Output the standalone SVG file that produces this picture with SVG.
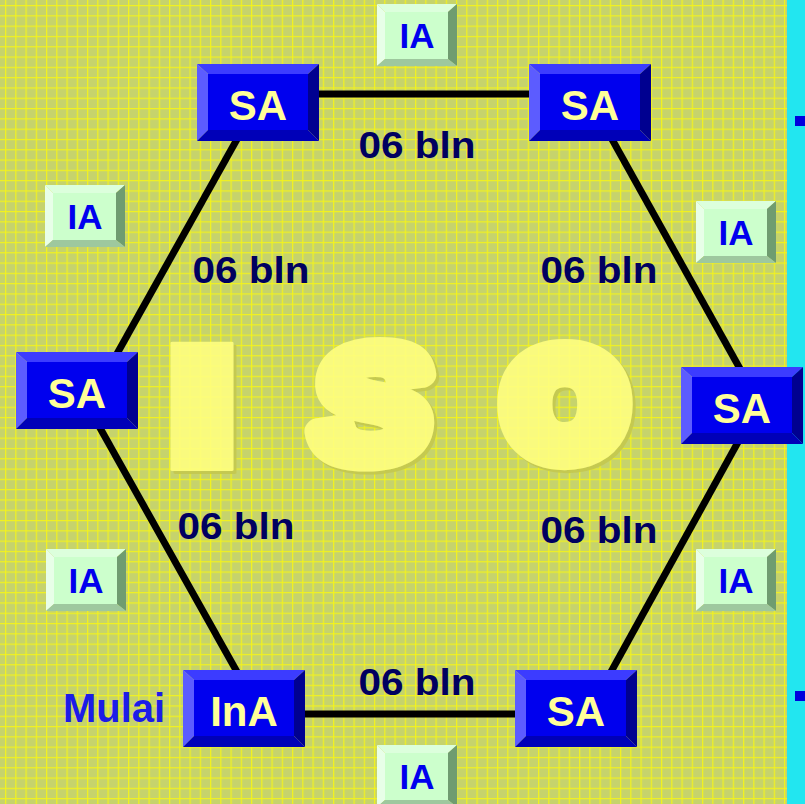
<svg xmlns="http://www.w3.org/2000/svg" xmlns:xlink="http://www.w3.org/1999/xlink" width="805" height="804" viewBox="0 0 805 804">
  <style>
    .edge { stroke: #000; stroke-width: 7; fill: none; stroke-linecap: butt; }
    .sa-label { font-family: "Liberation Sans", Arial, sans-serif; font-weight: bold; font-size: 42px; fill: #ffff99; text-anchor: middle; }
    .ia-label { font-family: "Liberation Sans", Arial, sans-serif; font-weight: bold; font-size: 35px; fill: #0000ee; text-anchor: middle; }
    .period { font-family: "Liberation Sans", Arial, sans-serif; font-weight: bold; font-size: 37px; fill: #000060; text-anchor: middle; }
    .start { font-family: "Liberation Sans", Arial, sans-serif; font-weight: bold; font-size: 40px; fill: #1c1ce8; text-anchor: middle; }
    .big { font-family: "Liberation Sans", Arial, sans-serif; font-weight: bold; text-anchor: middle; stroke-linejoin: round; fill: #ffff80; stroke: #ffff80; }
  </style>
  <defs>
    <!-- graph-paper grid -->
    <pattern id="grid" patternUnits="userSpaceOnUse" x="5" y="5" width="10.25" height="10.3">
      <path d="M0.6 0 V10.3 M0 0.6 H10.25" stroke="#f2f21e" stroke-width="1.2" fill="none"/>
    </pattern>
    <!-- soft offset shadow for the watermark letters -->
    <filter id="letter-shadow" x="-10%" y="-10%" width="130%" height="130%">
      <feFlood flood-color="#c4c850"/>
      <feComposite in2="SourceAlpha" operator="in"/>
      <feOffset dx="3" dy="3" result="shadow"/>
      <feMerge>
        <feMergeNode in="shadow"/>
        <feMergeNode in="SourceGraphic"/>
      </feMerge>
    </filter>
    <!-- dark blue bevelled button, 122 x 77 -->
    <g id="sa-box">
      <rect x="11" y="10" width="100" height="56" fill="#0000ee"/>
      <polygon points="0,0 122,0 111,10 11,10" fill="#3c3cff"/>
      <polygon points="0,0 11,10 11,66 0,77" fill="#5c5cff"/>
      <polygon points="122,0 122,77 111,66 111,10" fill="#000090"/>
      <polygon points="0,77 11,66 111,66 122,77" fill="#0000b8"/>
    </g>
    <!-- pale green bevelled button, 80 x 62 -->
    <g id="ia-box">
      <rect x="8" y="8" width="63" height="47" fill="#ccffcc"/>
      <polygon points="0,0 80,0 71,8 8,8" fill="#dcffdc"/>
      <polygon points="0,0 8,8 8,55 0,62" fill="#e8ffe8"/>
      <polygon points="80,0 80,62 71,55 71,8" fill="#6f9c70"/>
      <polygon points="0,62 8,55 71,55 80,62" fill="#9ec89e"/>
    </g>
  </defs>

  <!-- background -->
  <rect x="0" y="0" width="805" height="804" fill="#c6d36c"/>
  <rect x="787" y="0" width="18" height="804" fill="#22e6f0"/>
  <rect x="0" y="0" width="787" height="804" fill="url(#grid)"/>

  <!-- large watermark letters -->
  <g id="watermark" opacity="0.9" filter="url(#letter-shadow)">
    <text class="big" font-size="185" stroke-width="2" transform="translate(202,470) scale(2.2,1)">I</text>
    <text class="big" font-size="156" stroke-width="24" transform="translate(367,458) skewX(-6) scale(1.1,1)">S</text>
    <text class="big" font-size="146" stroke-width="34" transform="translate(565,453) scale(1,0.95)">O</text>
  </g>

  <!-- page markers at the right edge -->
  <rect x="795" y="116" width="10" height="10" fill="#0000dd"/>
  <rect x="795" y="691" width="10" height="10" fill="#0000dd"/>

  <!-- hexagon connectors -->
  <g id="connectors">
    <line class="edge" x1="300" y1="94" x2="550" y2="94"/>
    <line class="edge" x1="241.6" y1="131" x2="112.4" y2="362"/>
    <line class="edge" x1="94.4" y1="418" x2="241.6" y2="680"/>
    <line class="edge" x1="290" y1="714" x2="530" y2="714"/>
    <line class="edge" x1="742.5" y1="434" x2="606.5" y2="680"/>
    <line class="edge" x1="607.4" y1="131" x2="744.6" y2="377"/>
  </g>

  <!-- duration labels -->
  <g id="edge-labels">
    <text class="period" x="417" y="158" textLength="117" lengthAdjust="spacingAndGlyphs">06 bln</text>
    <text class="period" x="251" y="283" textLength="117" lengthAdjust="spacingAndGlyphs">06 bln</text>
    <text class="period" x="599" y="283" textLength="117" lengthAdjust="spacingAndGlyphs">06 bln</text>
    <text class="period" x="236" y="539" textLength="117" lengthAdjust="spacingAndGlyphs">06 bln</text>
    <text class="period" x="599" y="543" textLength="117" lengthAdjust="spacingAndGlyphs">06 bln</text>
    <text class="period" x="417" y="695" textLength="117" lengthAdjust="spacingAndGlyphs">06 bln</text>
  </g>

  <!-- SA / InA nodes -->
  <g id="node-sa-top-left" transform="translate(197,64)">
    <use href="#sa-box"/>
    <text class="sa-label" x="61" y="56">SA</text>
  </g>
  <g id="node-sa-top-right" transform="translate(529,64)">
    <use href="#sa-box"/>
    <text class="sa-label" x="61" y="56">SA</text>
  </g>
  <g id="node-sa-left" transform="translate(16,352)">
    <use href="#sa-box"/>
    <text class="sa-label" x="61" y="56">SA</text>
  </g>
  <g id="node-sa-right" transform="translate(681,367)">
    <use href="#sa-box"/>
    <text class="sa-label" x="61" y="56">SA</text>
  </g>
  <g id="node-sa-bottom-right" transform="translate(515,670)">
    <use href="#sa-box"/>
    <text class="sa-label" x="61" y="56">SA</text>
  </g>
  <g id="node-ina" transform="translate(183,670)">
    <use href="#sa-box"/>
    <text class="sa-label" x="61" y="56">InA</text>
  </g>
  <g id="label-mulai">
    <text class="start" x="114" y="722">Mulai</text>
  </g>

  <!-- IA nodes -->
  <g id="node-ia-top" transform="translate(377,4)">
    <use href="#ia-box"/>
    <text class="ia-label" x="40" y="44">IA</text>
  </g>
  <g id="node-ia-left-top" transform="translate(45,185)">
    <use href="#ia-box"/>
    <text class="ia-label" x="40" y="44">IA</text>
  </g>
  <g id="node-ia-right-top" transform="translate(696,201)">
    <use href="#ia-box"/>
    <text class="ia-label" x="40" y="44">IA</text>
  </g>
  <g id="node-ia-left-bottom" transform="translate(46,549)">
    <use href="#ia-box"/>
    <text class="ia-label" x="40" y="44">IA</text>
  </g>
  <g id="node-ia-right-bottom" transform="translate(696,549)">
    <use href="#ia-box"/>
    <text class="ia-label" x="40" y="44">IA</text>
  </g>
  <g id="node-ia-bottom" transform="translate(377,745)">
    <use href="#ia-box"/>
    <text class="ia-label" x="40" y="44">IA</text>
  </g>
</svg>
